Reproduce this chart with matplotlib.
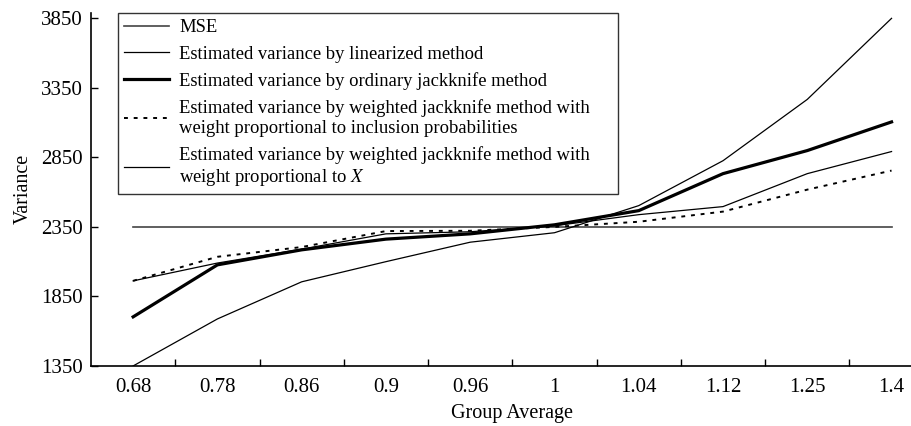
import numpy as np
import matplotlib.pyplot as plt
from matplotlib.ticker import FixedLocator

# Data
groups = ["0.68", "0.78", "0.86", "0.9", "0.96", "1", "1.04", "1.12", "1.25", "1.4"]
mse = [2350, 2350, 2350, 2350, 2350, 2350, 2350, 2350, 2350, 2350]
linearized = [1350, 1688, 1955, 2100, 2240, 2308, 2503, 2826, 3267, 3850]
ordinary_jk = [1703, 2077, 2185, 2262, 2300, 2365, 2467, 2733, 2899, 3105]
weighted_jk_pi = [1962, 2135, 2205, 2320, 2322, 2350, 2387, 2460, 2618, 2755]
weighted_jk_x = [1962, 2090, 2190, 2300, 2315, 2358, 2438, 2496, 2733, 2892]

plt.rcParams['font.family'] = ['Liberation Serif', 'DejaVu Serif']
plt.rcParams['font.size'] = 14
plt.rcParams['mathtext.fontset'] = 'stix'

fig = plt.figure(figsize=(9.11, 4.26), dpi=100)
ax = fig.add_axes([0.0999, 0.141, 0.925, 0.829])

x = np.arange(len(groups))
ax.plot(x, mse, color='#444444', lw=1.2, label='MSE')
ax.plot(x, linearized, color='black', lw=0.9,
        label='Estimated variance by linearized method')
ax.plot(x, ordinary_jk, color='black', lw=2.3,
        label='Estimated variance by ordinary jackknife method')
ax.plot(x, weighted_jk_pi, color='black', lw=1.4, linestyle=(0, (2, 3)),
        label='Estimated variance by weighted jackknife method with\n'
              'weight proportional to inclusion probabilities')
ax.plot(x, weighted_jk_x, color='black', lw=0.9,
        label='Estimated variance by weighted jackknife method with\n'
              'weight proportional to $X$')

ax.set_xlim(-0.5, 9.5)
ax.set_ylim(1350, 3890)
ax.set_yticks([1350, 1850, 2350, 2850, 3350, 3850])
ax.set_xticks(x)
ax.set_xticklabels(groups)
ax.xaxis.set_minor_locator(FixedLocator(np.arange(0.5, 9.5, 1.0)))
ax.tick_params(axis='x', which='major', length=0, pad=9, labelsize=15)
ax.tick_params(axis='x', which='minor', direction='in', length=5, width=1)
ax.tick_params(axis='y', direction='in', length=5, width=1, pad=6, labelsize=15)

for side in ['top', 'right']:
    ax.spines[side].set_visible(False)
ax.spines['left'].set_linewidth(1.2)
ax.spines['bottom'].set_linewidth(1.2)

ax.set_xlabel('Group Average', fontsize=14.5, labelpad=5)
ax.set_ylabel('Variance', fontsize=14.5, labelpad=6)

leg = ax.legend(loc='upper left', bbox_to_anchor=(0.032, 0.0, 0.593, 1.0),
                mode='expand', frameon=True, fancybox=False,
                edgecolor='black', handlelength=2.4, borderpad=0.35,
                labelspacing=0.5, handletextpad=0.55, borderaxespad=0.0,
                fontsize=13.4)
leg.get_frame().set_linewidth(1.0)

fig.savefig('out.png', dpi=100)
